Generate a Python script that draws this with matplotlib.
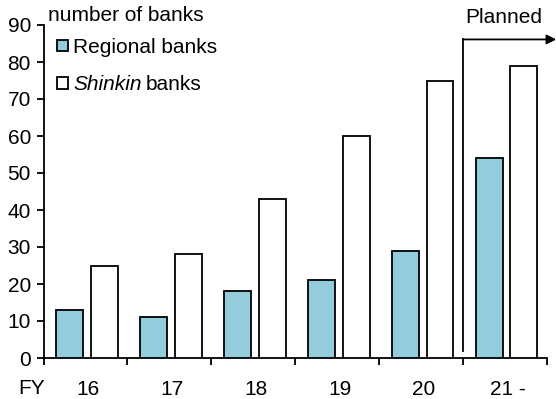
import matplotlib
matplotlib.use("Agg")
import matplotlib.pyplot as plt
from matplotlib.patches import Rectangle
import matplotlib.transforms as mtransforms
import numpy as np

plt.rcParams['font.family'] = ['Liberation Sans', 'DejaVu Sans']

categories = ["16", "17", "18", "19", "20", "21 -"]
regional = [13, 11, 18, 21, 29, 54]
shinkin = [25, 28, 43, 60, 75, 79]
yticks = [0, 10, 20, 30, 40, 50, 60, 70, 80, 90]

FS = 15
W, H = 556, 399
fig = plt.figure(figsize=(W / 100, H / 100), dpi=100)
ax = fig.add_axes([43.5 / W, (H - 358) / H, (547 - 43.5) / W, (358 - 25) / H])

x = np.arange(len(categories))
bw = 0.32
blue = "#93CDDD"
ax.bar(x - 0.19, regional, bw, color=blue, edgecolor="black", linewidth=1.3, zorder=3)
ax.bar(x + 0.225, shinkin, bw, color="white", edgecolor="black", linewidth=1.3, zorder=3)

ax.set_xlim(-0.5, len(categories) - 0.5)
ax.set_ylim(0, 90)
for s in ["top", "right"]:
    ax.spines[s].set_visible(False)
for s in ["left", "bottom"]:
    ax.spines[s].set_linewidth(1.3)

ax.set_yticks(yticks)
ax.tick_params(axis="y", direction="out", length=5, width=1.3, pad=4, labelsize=FS)
ax.set_xticks(x)
ax.set_xticklabels(categories)
ax.set_xticks(np.arange(len(categories) + 1) - 0.5, minor=True)
ax.tick_params(axis="x", which="major", length=0, pad=16, labelsize=FS)
ax.tick_params(axis="x", which="minor", direction="out", length=5, width=1.3)
shift = mtransforms.ScaledTranslation(3 / 100, 0, fig.dpi_scale_trans)
for lbl in ax.get_xticklabels():
    lbl.set_transform(lbl.get_transform() + shift)

# Planned arrow
ax.plot([4.5, 4.5], [1.9, 86.1], color="black", lw=1.3, clip_on=False, zorder=4)
ax.annotate("", xy=(5.61, 86.1), xytext=(4.5, 86.1), xycoords="data",
            arrowprops=dict(arrowstyle="-|>", color="black", lw=1.3,
                            mutation_scale=14, shrinkA=0, shrinkB=0),
            annotation_clip=False)
ax.text(4.99, 90.6, "Planned", ha="center", va="baseline", fontsize=FS, clip_on=False)

# Texts
fig.text(48 / W, 1 - 21 / H, "number of banks", ha="left", va="baseline", fontsize=FS)
fig.text(31.5 / W, 1 - 394 / H, "FY", ha="center", va="baseline", fontsize=FS)

# Legend
fig.patches.append(Rectangle((57 / W, 1 - 50.5 / H), 11 / W, 11 / H, transform=fig.transFigure,
                             facecolor=blue, edgecolor="black", linewidth=1.3))
fig.patches.append(Rectangle((57 / W, 1 - 88.5 / H), 11 / W, 11 / H, transform=fig.transFigure,
                             facecolor="white", edgecolor="black", linewidth=1.3))
fig.text(73 / W, 1 - 53 / H, "Regional banks", ha="left", va="baseline", fontsize=FS)
t_sh = fig.text(73 / W, 1 - 90 / H, "Shinkin", ha="left", va="baseline", fontsize=FS,
                style="italic")
fig.canvas.draw()
bb = t_sh.get_window_extent()
fig.text((bb.x1 + 4) / W, 1 - 90 / H, "banks", ha="left", va="baseline", fontsize=FS)

fig.savefig("out.png", dpi=100)
